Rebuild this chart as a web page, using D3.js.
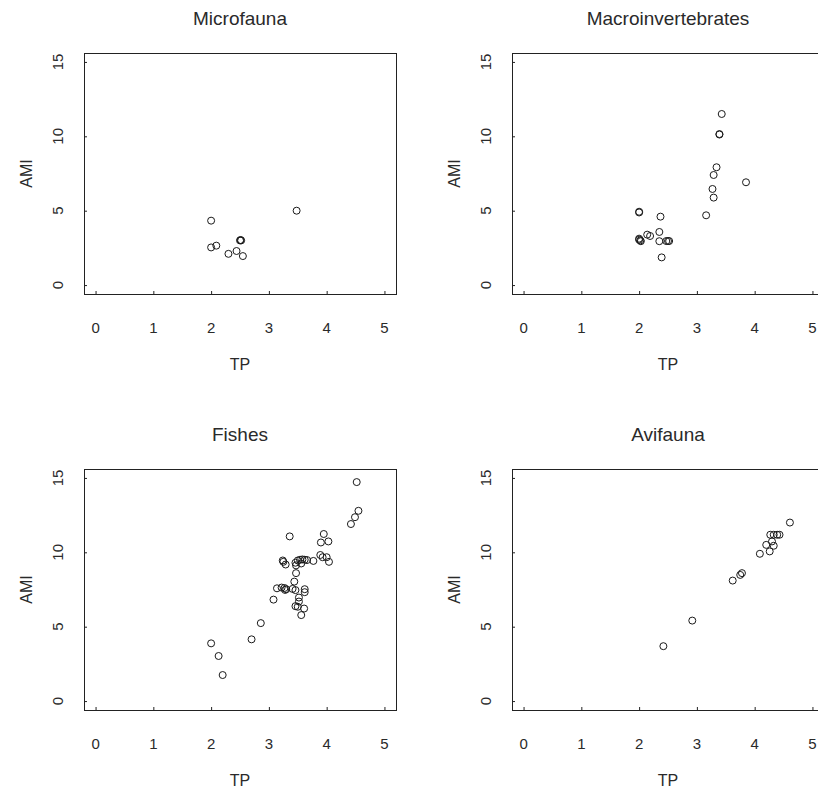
<!DOCTYPE html>
<html>
<head>
<meta charset="utf-8">
<script src="https://cdn.jsdelivr.net/npm/d3@7/dist/d3.min.js"></script>
<style>
  html, body { margin: 0; padding: 0; background: #fff; overflow: hidden; }
  text { font-family: "Liberation Sans", Arial, sans-serif; fill: #2a2a2a; }
</style>
</head>
<body>
<svg id="chart" width="818" height="791"></svg>
<script>
// panel titles, ticks
var panelTitles = ["Microfauna", "Macroinvertebrates", "Fishes", "Avifauna"];
var xTicks = [0, 1, 2, 3, 4, 5];
var yTicks = [0, 5, 10, 15];

// Microfauna
var microTP  = [2.0, 3.48, 2.5, 2.51, 2.52, 2.0, 2.09, 2.3, 2.44, 2.55];
var microAMI = [4.33, 5.0, 3.0, 3.03, 3.0, 2.53, 2.65, 2.1, 2.29, 1.95];

// Macroinvertebrates
var macroTP  = [2.0, 2.0, 2.0, 2.02, 2.0, 2.03, 2.14, 2.19, 2.35, 2.37, 2.35, 2.47, 2.5, 2.52,
                2.39, 3.16, 3.27, 3.29, 3.29, 3.34, 3.39, 3.39, 3.43, 3.85];
var macroAMI = [4.88, 4.93, 3.05, 3.0, 3.12, 2.95, 3.39, 3.3, 3.57, 4.6, 2.95, 2.96, 2.96, 2.96,
                1.86, 4.69, 6.46, 5.88, 7.4, 7.92, 10.12, 10.15, 11.5, 6.91];

// Fishes
var fishTP  = [4.52, 4.55, 4.49, 4.42, 3.36, 3.95, 3.9, 4.03, 3.89, 3.93, 4.0, 4.04, 3.77,
               3.24, 3.25, 3.29, 3.46, 3.5, 3.54, 3.58, 3.62, 3.66, 3.56, 3.47, 3.47, 3.44,
               3.14, 3.22, 3.27, 3.3, 3.28, 3.41, 3.46, 3.62, 3.62, 3.52, 3.08, 3.52, 3.46,
               3.5, 3.61, 3.56, 2.86, 2.7, 2.0, 2.13, 2.2];
var fishAMI = [14.72, 12.79, 12.36, 11.9, 11.07, 11.23, 10.66, 10.73, 9.82, 9.67, 9.67, 9.36, 9.42,
               9.45, 9.36, 9.18, 9.3, 9.45, 9.5, 9.52, 9.5, 9.48, 9.25, 9.12, 8.6, 8.03,
               7.58, 7.63, 7.6, 7.52, 7.47, 7.54, 7.46, 7.52, 7.32, 6.96, 6.82, 6.69, 6.38,
               6.34, 6.22, 5.78, 5.24, 4.15, 3.88, 3.03, 1.75];

// Avifauna
var aviTP  = [2.42, 2.92, 3.62, 3.75, 3.78, 4.09, 4.2, 4.26, 4.27, 4.33, 4.39, 4.43, 4.3, 4.33, 4.61];
var aviAMI = [3.69, 5.41, 8.1, 8.48, 8.6, 9.9, 10.5, 10.06, 11.18, 11.18, 11.18, 11.18, 10.73, 10.44, 12.0];

var svg = d3.select("#chart");

// box of each panel (left, top), all boxes same size
var boxW = 312, boxH = 241;
var panels = [
  { left: 84,  top: 53,  tp: microTP, ami: microAMI },
  { left: 512, top: 53,  tp: macroTP, ami: macroAMI },
  { left: 84,  top: 469, tp: fishTP,  ami: fishAMI },
  { left: 512, top: 469, tp: aviTP,   ami: aviAMI }
];

function drawPanel(p, i) {
  // R style: 4% extension of xlim=c(0,5), ylim=c(0,15)
  var x = d3.scaleLinear().domain([-0.2, 5.2]).range([p.left, p.left + boxW]);
  var y = d3.scaleLinear().domain([-0.6, 15.6]).range([p.top + boxH, p.top]);
  var g = svg.append("g");

  //外框
  g.append("rect")
    .attr("x", p.left + 0.5)
    .attr("y", p.top + 0.5)
    .attr("width", boxW)
    .attr("height", boxH)
    .attr("fill", "none")
    .attr("stroke", "#222")
    .attr("stroke-width", 1);

  //刻度朝内
  g.append("g")
    .attr("transform", "translate(0," + (p.top + boxH) + ")")
    .call(d3.axisBottom(x).tickValues(xTicks).tickSize(-3).tickFormat(""))
    .call(function (a) { a.select(".domain").remove(); })
    .selectAll("line").attr("stroke", "#222");
  g.append("g")
    .attr("transform", "translate(" + p.left + ",0)")
    .call(d3.axisLeft(y).tickValues(yTicks).tickSize(-3).tickFormat(""))
    .call(function (a) { a.select(".domain").remove(); })
    .selectAll("line").attr("stroke", "#222");

  // tick labels
  g.append("g")
    .selectAll("text")
    .data(xTicks)
    .enter()
    .append("text")
    .attr("x", function (d) { return x(d); })
    .attr("y", p.top + boxH + 34)
    .attr("dy", ".35em")
    .attr("text-anchor", "middle")
    .style("font-size", "15px")
    .text(function (d) { return d; });
  g.append("g")
    .selectAll("text")
    .data(yTicks)
    .enter()
    .append("text")
    .attr("transform", function (d) {
      return "translate(" + (p.left - 26) + "," + y(d) + ") rotate(-90)";
    })
    .attr("dy", ".35em")
    .attr("text-anchor", "middle")
    .style("font-size", "15px")
    .text(function (d) { return d; });

  // axis titles + panel title
  g.append("text")
    .attr("x", p.left + boxW / 2)
    .attr("y", p.top + boxH + 70)
    .attr("dy", ".35em")
    .attr("text-anchor", "middle")
    .style("font-size", "16px")
    .text("TP");
  g.append("text")
    .attr("transform", "translate(" + (p.left - 58) + "," + (p.top + boxH / 2) + ") rotate(-90)")
    .attr("dy", ".35em")
    .attr("text-anchor", "middle")
    .style("font-size", "16px")
    .text("AMI");
  g.append("text")
    .attr("x", p.left + boxW / 2)
    .attr("y", p.top - 35)
    .attr("dy", ".35em")
    .attr("text-anchor", "middle")
    .style("font-size", "19px")
    .text(panelTitles[i]);

  //空心圆点
  g.append("g")
    .selectAll("circle")
    .data(d3.range(p.tp.length))
    .enter()
    .append("circle")
    .attr("cx", function (k) { return x(p.tp[k]); })
    .attr("cy", function (k) { return y(p.ami[k]); })
    .attr("r", 3.5)
    .attr("fill", "none")
    .attr("stroke", "#1a1a1a")
    .attr("stroke-width", 1);
}

panels.forEach(drawPanel);
</script>
</body>
</html>
